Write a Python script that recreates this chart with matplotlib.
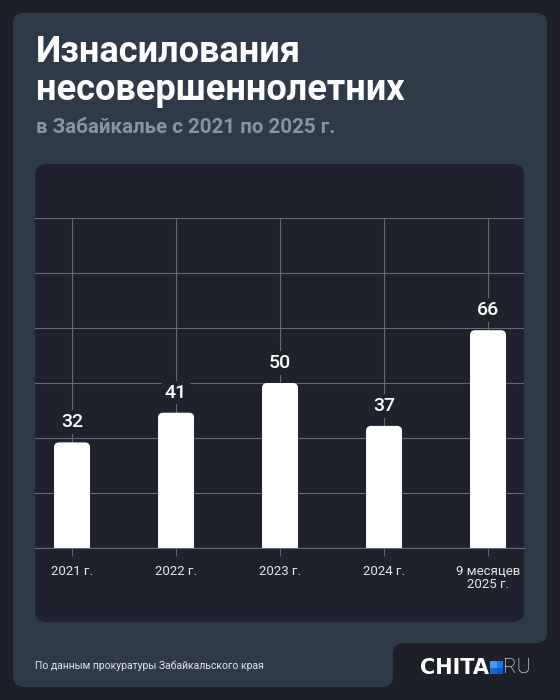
import matplotlib
matplotlib.use("Agg")
import matplotlib.pyplot as plt
from matplotlib.patches import FancyBboxPatch, Rectangle
import numpy as np

# ---- data ----
categories = ["2021 г.", "2022 г.", "2023 г.", "2024 г.", "9 месяцев\n2025 г."]
values = [32, 41, 50, 37, 66]
title_line1 = "Изнасилования"
title_line2 = "несовершеннолетних"
subtitle = "в Забайкалье с 2021 по 2025 г."
source = "По данным прокуратуры Забайкальского края"

# ---- colours ----
BG = "#1d2029"
PANEL = "#2e3a47"
CHART = "#1f222c"
GRID = "#666a73"
SUB = "#8b949e"

plt.rcParams["font.family"] = ["Roboto", "DejaVu Sans"]

fig = plt.figure(figsize=(5.6, 7.0), dpi=100, facecolor=BG)

# background layer in pixel coordinates
bg = fig.add_axes([0, 0, 1, 1], zorder=0)
bg.set_xlim(0, 560)
bg.set_ylim(700, 0)
bg.axis("off")

def rbox(x0, y0, x1, y1, r, color, z=1):
    p = FancyBboxPatch((x0, y0), x1 - x0, y1 - y0,
                       boxstyle=f"round,pad=0,rounding_size={r}",
                       fc=color, ec="none", zorder=z)
    bg.add_patch(p)

rbox(13, 13, 547, 643, 11, PANEL, 1)
rbox(13, 13, 393, 687, 11, PANEL, 1)
bg.add_patch(Rectangle((392, 642), 14, 14, fc=PANEL, ec="none", zorder=1))
rbox(393, 643, 600, 740, 11, BG, 2)
rbox(35, 164, 524, 622, 11, CHART, 3)

# titles
bg.text(36, 62, title_line1, fontsize=26, fontweight="bold", color="white",
        va="baseline", ha="left", zorder=5)
bg.text(36, 100, title_line2, fontsize=26, fontweight="bold", color="white",
        va="baseline", ha="left", zorder=5)
bg.text(36, 133, subtitle, fontsize=14.8, fontweight="bold", color=SUB,
        va="baseline", ha="left", zorder=5)

# footer
bg.text(35, 666, source, fontsize=7.5, color="#e4e6ea", va="center", ha="left", zorder=5)

# logo
bg.text(489, 667.5, "CHITA", fontsize=15, fontweight="bold", family="DejaVu Sans",
        color="white", va="center", ha="right", zorder=5)
sq = [(490, 661, "#3d9df5"), (496.5, 661, "#1f78e6"),
      (490, 667.5, "#1767d6"), (496.5, 667.5, "#0e55bf")]
for sx, sy, c in sq:
    bg.add_patch(Rectangle((sx, sy), 6.5, 6.5, fc=c, ec="none", zorder=5))
bg.text(503, 667.5, "RU", fontsize=15, fontweight="light", color="white",
        va="center", ha="left", zorder=5)

# ---- main chart ----
ax = fig.add_axes([35 / 560, (700 - 548) / 700, 489 / 560, 330 / 700], zorder=2)
ax.patch.set_alpha(0)
x = np.arange(len(categories))
ax.set_xlim(-0.356, 4.346)
ax.set_ylim(0, 100)

ax.set_yticks(np.linspace(0, 100, 7))
ax.set_xticks(x)
ax.set_xticklabels(categories, fontsize=9.5, color="#e6e7ea", linespacing=1.05)
ax.tick_params(axis="x", length=6, width=0.8, color=GRID, pad=6)
ax.tick_params(axis="y", length=0, labelleft=False)
ax.grid(True, color=GRID, linewidth=0.8, zorder=0)
ax.set_axisbelow(True)
for s in ["left", "right", "top"]:
    ax.spines[s].set_visible(False)
ax.spines["bottom"].set_color(GRID)
ax.spines["bottom"].set_linewidth(0.8)

bw = 0.346
rx = 0.05
for xi, v in zip(x, values):
    p = FancyBboxPatch((xi - bw / 2, -5), bw, v + 5,
                       boxstyle=f"round,pad=0,rounding_size={rx}",
                       mutation_aspect=30, fc="white", ec="none", zorder=3)
    ax.add_patch(p)
    ax.annotate(str(v), (xi, v), xytext=(0, 14.5), textcoords="offset points",
                ha="center", va="center", fontsize=14, fontweight="medium",
                color="white", zorder=4,
                bbox=dict(boxstyle="square,pad=0.15", fc=CHART, ec="none"))

fig.savefig("out.png", dpi=100, facecolor=BG)
